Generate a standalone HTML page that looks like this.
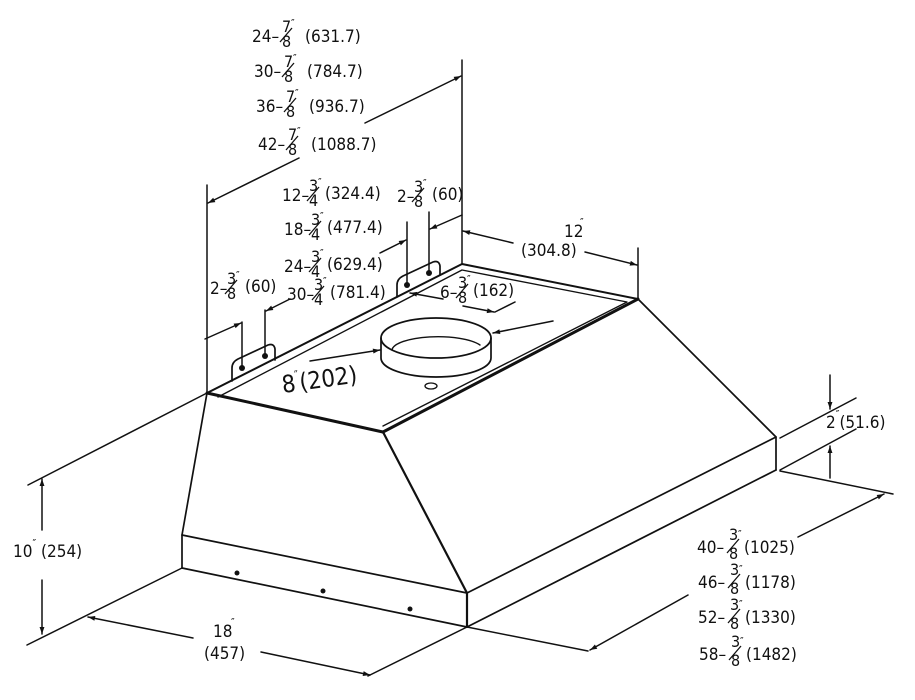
<!DOCTYPE html>
<html><head><meta charset="utf-8"><style>
html,body{margin:0;padding:0;background:#fff;}
svg{display:block;}
text{font-family:"DejaVu Sans Condensed","Liberation Sans Narrow","Liberation Sans",sans-serif;fill:#111;font-size:17px;}
.n{font-size:16px;}
.q{font-size:11px;}
.sl{stroke:#111;stroke-width:1.3;fill:none;}
</style></head><body>
<svg width="915" height="700" viewBox="0 0 915 700" xmlns="http://www.w3.org/2000/svg">
<defs>
<marker id="a" viewBox="0 0 10 10" refX="10" refY="5" markerWidth="13" markerHeight="7" orient="auto-start-reverse" markerUnits="userSpaceOnUse"><path d="M0,1.5 L10,5 L0,8.5 z" fill="#111"/></marker>
</defs>
<g stroke="#111" fill="none" stroke-width="1.7" stroke-linecap="round" stroke-linejoin="round">
<path d="M207,393 L462,264 L638,299 L383,432 Z" stroke-width="2"/>
<path d="M218,397 L462,270 L627,302 L383,426" stroke-width="1.4"/>
<path d="M207,393 L383,432" stroke-width="3"/>
<path d="M383,432 L638,299" stroke-width="3"/>
<path d="M207,393 L182,535 L182,568"/>
<path d="M383,432 L467,593 L467,627" stroke-width="2.2"/>
<path d="M638,299 L776,437 L776,470"/>
<path d="M182,535 L467,593 L776,437"/>
<path d="M182,568 L467,627 L776,470"/>
<ellipse cx="436" cy="338" rx="55" ry="20" fill="#fff"/>
<path d="M381,338 L381,358 A55,19 0 0 0 491,358 L491,338"/>
<path d="M392,350 A46,14 0 0 1 480,345" stroke-width="1.4"/>
<ellipse cx="431" cy="386" rx="6" ry="3" stroke-width="1.3"/>
<path d="M232,381 L232,368 Q232,362 238,359 L268,345 Q274,343 275,349 L275,360"/>
<path d="M397,297 L397,285 Q397,279 403,276 L433,262 Q439,260 440,266 L440,275"/>
<g fill="#111" stroke="none">
<circle cx="242" cy="368" r="3"/><circle cx="265" cy="356" r="3"/>
<circle cx="407" cy="285" r="3"/><circle cx="429" cy="273" r="3"/>
<circle cx="237" cy="573" r="2.5"/><circle cx="323" cy="591" r="2.5"/><circle cx="410" cy="609" r="2.5"/>
</g>
<g stroke-width="1.5">
<path d="M207,393 L207,185"/>
<path d="M462,264 L462,60"/>
<path d="M638,299 L638,248"/>
<path d="M242,368 L242,322"/><path d="M265,356 L265,310"/>
<path d="M407,285 L407,222"/><path d="M429,273 L429,212"/>
<path d="M207,393 L28,485"/>
<path d="M182,568 L27,645"/>
<path d="M467,627 L368,676"/>
<path d="M467,627 L588,651"/>
<path d="M780,471 L893,494"/>
<path d="M780,438 L856,398"/><path d="M780,470 L856,429"/>
<path d="M495,312 L515,302"/>
</g>
<g stroke-width="1.5">
<path d="M42,530 L42,479" marker-end="url(#a)"/>
<path d="M42,580 L42,634" marker-end="url(#a)"/>
<path d="M193,638 L88,617" marker-end="url(#a)"/>
<path d="M261,652 L370,675" marker-end="url(#a)"/>
<path d="M688,595 L590,650" marker-end="url(#a)"/>
<path d="M798,537 L884,494" marker-end="url(#a)"/>
<path d="M830,375 L830,409" marker-end="url(#a)"/>
<path d="M830,478 L830,446" marker-end="url(#a)"/>
<path d="M513,243 L463,231" marker-end="url(#a)"/>
<path d="M585,252 L637,265" marker-end="url(#a)"/>
<path d="M299,158 L208,203" marker-end="url(#a)"/>
<path d="M365,123 L461,76" marker-end="url(#a)"/>
<path d="M205,339 L241,323" marker-end="url(#a)"/>
<path d="M290,299 L266,311" marker-end="url(#a)"/>
<path d="M462,215 L430,229" marker-end="url(#a)"/>
<path d="M380,253 L406,240" marker-end="url(#a)"/>
<path d="M443,299 L410,293" marker-end="url(#a)"/>
<path d="M463,306 L494,312" marker-end="url(#a)"/>
<path d="M553,321 L493,333" marker-end="url(#a)"/>
<path d="M310,361 L380,350" marker-end="url(#a)"/>
</g>
</g>

<g>
<g transform="translate(252,42)"><text x="0" y="0">24–</text><text class="n" x="30" y="-10">7</text><text class="n" x="30" y="5">8</text><path class="sl" d="M28,0 L40,-14"/><text class="q" x="39" y="-15">″</text><text x="53" y="0">(631.7)</text></g>
<g transform="translate(254,77)"><text x="0" y="0">30–</text><text class="n" x="30" y="-10">7</text><text class="n" x="30" y="5">8</text><path class="sl" d="M28,0 L40,-14"/><text class="q" x="39" y="-15">″</text><text x="53" y="0">(784.7)</text></g>
<g transform="translate(256,112)"><text x="0" y="0">36–</text><text class="n" x="30" y="-10">7</text><text class="n" x="30" y="5">8</text><path class="sl" d="M28,0 L40,-14"/><text class="q" x="39" y="-15">″</text><text x="53" y="0">(936.7)</text></g>
<g transform="translate(258,150)"><text x="0" y="0">42–</text><text class="n" x="30" y="-10">7</text><text class="n" x="30" y="5">8</text><path class="sl" d="M28,0 L40,-14"/><text class="q" x="39" y="-15">″</text><text x="53" y="0">(1088.7)</text></g>

<g transform="translate(282,201)"><text x="0" y="0">12–</text><text class="n" x="27" y="-10">3</text><text class="n" x="27" y="5">4</text><path class="sl" d="M25,0 L37,-14"/><text class="q" x="36" y="-15">″</text><text x="43" y="-2">(324.4)</text></g>
<g transform="translate(284,235)"><text x="0" y="0">18–</text><text class="n" x="27" y="-10">3</text><text class="n" x="27" y="5">4</text><path class="sl" d="M25,0 L37,-14"/><text class="q" x="36" y="-15">″</text><text x="43" y="-2">(477.4)</text></g>
<g transform="translate(284,272)"><text x="0" y="0">24–</text><text class="n" x="27" y="-10">3</text><text class="n" x="27" y="5">4</text><path class="sl" d="M25,0 L37,-14"/><text class="q" x="36" y="-15">″</text><text x="43" y="-2">(629.4)</text></g>
<g transform="translate(287,300)"><text x="0" y="0">30–</text><text class="n" x="27" y="-10">3</text><text class="n" x="27" y="5">4</text><path class="sl" d="M25,0 L37,-14"/><text class="q" x="36" y="-15">″</text><text x="43" y="-2">(781.4)</text></g>

<g transform="translate(397,202)"><text x="0" y="0">2–</text><text class="n" x="17" y="-10">3</text><text class="n" x="17" y="5">8</text><path class="sl" d="M15,0 L27,-14"/><text class="q" x="26" y="-15">″</text><text x="35" y="-2">(60)</text></g>
<g transform="translate(210,294)"><text x="0" y="0">2–</text><text class="n" x="17" y="-10">3</text><text class="n" x="17" y="5">8</text><path class="sl" d="M15,0 L27,-14"/><text class="q" x="26" y="-15">″</text><text x="35" y="-2">(60)</text></g>
<g transform="translate(440,298)"><text x="0" y="0">6–</text><text class="n" x="18" y="-10">3</text><text class="n" x="18" y="5">8</text><path class="sl" d="M16,0 L28,-14"/><text class="q" x="27" y="-15">″</text><text x="33" y="-2">(162)</text></g>

<text x="564" y="237">12</text><text class="q" x="580" y="226">″</text>
<text x="521" y="256">(304.8)</text>

<text transform="translate(283,393) rotate(-8)" style="font-size:24px">8<tspan style="font-size:12px" dy="-12">″</tspan><tspan dy="12">(202)</tspan></text>

<text x="13" y="557">10<tspan class="q" dy="-10">″</tspan><tspan dy="10"> (254)</tspan></text>
<text x="213" y="637">18</text><text class="q" x="231" y="626">″</text>
<text x="204" y="659">(457)</text>

<text x="826" y="428">2<tspan class="q" dy="-10">″</tspan><tspan dy="10">(51.6)</tspan></text>

<g transform="translate(697,553)"><text x="0" y="0">40–</text><text class="n" x="32" y="-13">3</text><text class="n" x="32" y="6">8</text><path class="sl" d="M30,0 L42,-14"/><text class="q" x="41" y="-15">″</text><text x="47" y="0">(1025)</text></g>
<g transform="translate(698,588)"><text x="0" y="0">46–</text><text class="n" x="32" y="-13">3</text><text class="n" x="32" y="6">8</text><path class="sl" d="M30,0 L42,-14"/><text class="q" x="41" y="-15">″</text><text x="47" y="0">(1178)</text></g>
<g transform="translate(698,623)"><text x="0" y="0">52–</text><text class="n" x="32" y="-13">3</text><text class="n" x="32" y="6">8</text><path class="sl" d="M30,0 L42,-14"/><text class="q" x="41" y="-15">″</text><text x="47" y="0">(1330)</text></g>
<g transform="translate(699,660)"><text x="0" y="0">58–</text><text class="n" x="32" y="-13">3</text><text class="n" x="32" y="6">8</text><path class="sl" d="M30,0 L42,-14"/><text class="q" x="41" y="-15">″</text><text x="47" y="0">(1482)</text></g>
</g>
</svg>
</body></html>
